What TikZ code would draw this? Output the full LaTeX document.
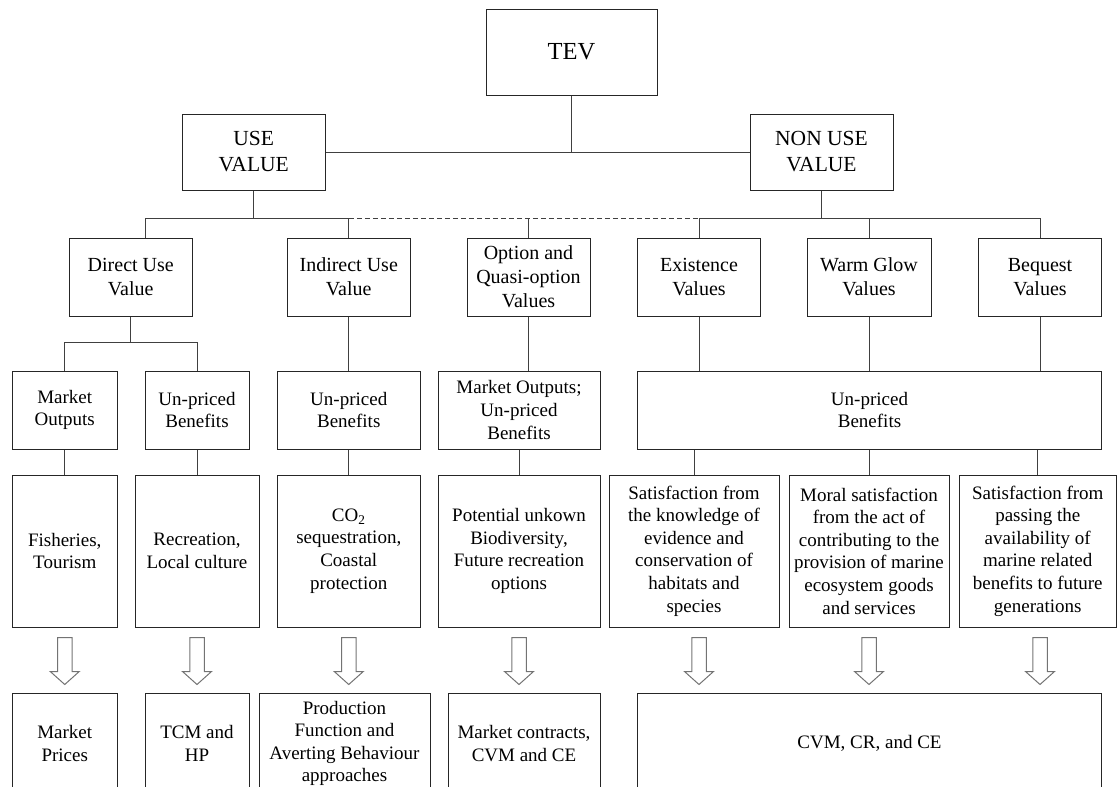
\documentclass[tikz,border=0pt]{standalone}
\usepackage{fontspec}
\setmainfont{Liberation Serif}
\usepackage{tikz}
\usetikzlibrary{positioning}

\begin{document}
\begin{tikzpicture}
    [
    x=1pt, y=-1pt,
    box/.style={rectangle,draw=black!85,line width=1pt,align=center,inner sep=2pt,
      font=\fontsize{19}{22.6}\selectfont},
    valbox/.style={box,font=\fontsize{20}{24}\selectfont,minimum height=78pt},
    topbox/.style={box,font=\fontsize{21.5}{26}\selectfont,minimum height=76pt},
    link/.style={draw=black!75,line width=1pt},
    hollow/.style={draw=black!55,line width=1pt,line join=miter},
    ]
    \clip (0,0) rectangle (1117,787);

    \node (tev) at (571.5,52) [box,font=\fontsize{24.5}{28}\selectfont,minimum width=171pt,minimum height=86pt] {TEV};
    \node (use) at (253.75,152) [topbox,minimum width=142.5pt] {USE\\VALUE};
    \node (nonuse) at (821.5,152) [topbox,minimum width=143pt] {NON USE\\VALUE};

    \node (dir) at (130.75,277) [valbox,minimum width=123.5pt] {Direct Use\\Value};
    \node (ind) at (348.75,277) [valbox,minimum width=122.5pt] {Indirect Use\\Value};
    \node (opt) at (528.5,277) [valbox,minimum width=123pt] {Option and\\Quasi-option\\Values};
    \node (exi) at (699,277) [valbox,minimum width=123pt] {Existence\\Values};
    \node (warm) at (869,277) [valbox,minimum width=124pt] {Warm Glow\\Values};
    \node (beq) at (1040,277) [valbox,minimum width=123pt] {Bequest\\Values};

    \node (mo) at (64.75,410) [box,minimum width=104.5pt,minimum height=78pt] {Market\\Outputs};
    \node (up1) at (197,410) [box,minimum width=104pt,minimum height=78pt] {Un-priced\\Benefits};
    \node (up2) at (348.75,410) [box,minimum width=142.5pt,minimum height=78pt] {Un-priced\\Benefits};
    \node (mop) at (519,410) [box,minimum width=162pt,minimum height=78pt] {Market Outputs;\\Un-priced\\Benefits};
    \node (big) at (869.5,410) [box,minimum width=464pt,minimum height=78pt] {Un-priced\\Benefits};

    \node (fis) at (64.75,551) [box,minimum width=104.5pt,minimum height=152pt] {Fisheries,\\Tourism};
    \node (rec) at (197,551) [box,minimum width=124pt,minimum height=152pt] {Recreation,\\Local culture};
    \node (co) at (348.75,551) [box,minimum width=142.5pt,minimum height=152pt] {CO\textsubscript{2}\\sequestration,\\Coastal\\protection};
    \node (pot) at (519,551) [box,minimum width=162pt,minimum height=152pt] {Potential unkown\\Biodiversity,\\Future recreation\\options};
    \node (sat1) at (694,551) [box,minimum width=170pt,minimum height=152pt] {Satisfaction from\\the knowledge of\\evidence and\\conservation of\\habitats and\\species};
    \node (moral) at (869,551) [box,minimum width=160pt,minimum height=152pt] {Moral satisfaction\\from the act of\\contributing to the\\provision of marine\\ecosystem goods\\and services};
    \node (sat2) at (1037.75,551) [box,minimum width=156.5pt,minimum height=152pt] {Satisfaction from\\passing the\\availability of\\marine related\\benefits to future\\generations};

    \node (mp) at (64.75,743.5) [box,minimum width=104.5pt,minimum height=101pt] {Market\\Prices};
    \node (tcm) at (197,743.5) [box,minimum width=104pt,minimum height=101pt] {TCM and\\HP};
    \node (prod) at (344.5,743.5) [box,minimum width=171pt,minimum height=101pt] {Production\\Function and\\Averting Behaviour\\approaches};
    \node (mc) at (524,743.5) [box,minimum width=152pt,minimum height=101pt] {Market contracts,\\CVM and CE};
    \node (cvm) at (869.5,743.5) [box,minimum width=464pt,minimum height=101pt] {CVM, CR, and CE};

    \draw [link] (tev.south) |- (use.east);
    \draw [link] (tev.south) |- (nonuse.west);
    \draw [link] (use.south) -- ++(0,28) coordinate (ub);
    \draw [link] (nonuse.south) -- ++(0,28) coordinate (nb);
    \draw [link] ([xshift=15pt]dir.north) |- (ub) -| (ind.north);
    \draw [link,dash pattern=on 5pt off 3pt] (ind.north |- ub) -- (exi.north |- nb);
    \draw [link] (opt.north) -- (opt.north |- ub);
    \draw [link] (exi.north) |- (nb) -| (beq.north);
    \draw [link] (warm.north) -- (warm.north |- nb);

    \draw [link] (dir.south) -- ++(0,26) coordinate (db);
    \draw [link] (mo.north) |- (db) -| (up1.north);
    \draw [link] (ind.south) -- (up2.north);
    \draw [link] (opt.south) -- (opt.south |- mop.north);
    \foreach \a in {exi,warm,beq}
      \draw [link] (\a.south) -- (\a.south |- big.north);

    \draw [link] (mo.south) -- (fis.north);
    \draw [link] (up1.south) -- (rec.north);
    \draw [link] (up2.south) -- (co.north);
    \draw [link] (mop.south) -- (pot.north);
    \foreach \a in {sat1,moral,sat2}
      \draw [link] (big.south -| \a.north) -- (\a.north);

    \foreach \a in {fis,rec,co,pot}
      \draw [hollow] (\a.south) ++(-7.25,10) -- ++(0,34) -- ++(-7.25,0) -- ++(14.5,13)
        -- ++(14.5,-13) -- ++(-7.25,0) -- ++(0,-34) -- cycle;
    \foreach \a/\b in {exi/sat1,warm/moral,beq/sat2}
      \draw [hollow] (\a.south |- \b.south) ++(-7.25,10) -- ++(0,34) -- ++(-7.25,0) -- ++(14.5,13)
        -- ++(14.5,-13) -- ++(-7.25,0) -- ++(0,-34) -- cycle;
  \end{tikzpicture}
\end{document}
